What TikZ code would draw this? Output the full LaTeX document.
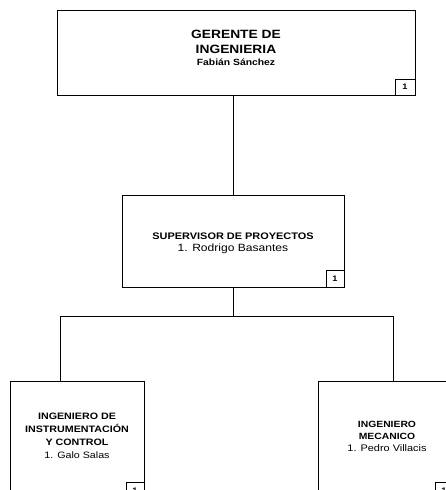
\documentclass[tikz,border=0pt]{standalone}
\usepackage{fontspec}
\setmainfont[FakeStretch=1.15]{Liberation Sans}
\usepackage{tikz}
\usetikzlibrary{positioning}

\begin{document}
\begin{tikzpicture}[x=1pt, y=-1pt,
        every node/.style = {inner sep=0pt, outer sep=0pt},
        puesto/.style = {draw, line width=0.8pt, anchor=north west},
        numbox/.style = {draw, line width=0.8pt, anchor=south east, minimum width=18pt, minimum height=17pt,
                         font=\bfseries\fontsize{8}{8}\selectfont},
        texto/.style = {align=center, font=\bfseries}
        ]
        \useasboundingbox (0,0) rectangle (446,490);
        \clip (0,0) rectangle (446,490);

        % cajas
        \node (1) [puesto, minimum width=358pt, minimum height=85pt] at (57,10) {};
        \node (2) [puesto, minimum width=222pt, minimum height=92pt] at (122,195) {};
        \node (3) [puesto, minimum width=134pt, minimum height=118pt] at (10,381) {};
        \node (4) [puesto, minimum width=135pt, minimum height=118pt] at (318,381) {};

        % textos
        \node (t1) [texto, font=\bfseries\fontsize{12}{15}\selectfont] at (236,48) {GERENTE DE\\
            INGENIERIA\\[-3pt]
            \fontsize{9}{11}\selectfont Fabián Sánchez};
        \node (t2) [texto, font=\bfseries\fontsize{9.5}{12}\selectfont] at (233,243) {SUPERVISOR DE PROYECTOS\\
            \mdseries\fontsize{10.5}{12}\selectfont 1. Rodrigo Basantes};
        \node (t3) [texto, font=\bfseries\fontsize{9.3}{13}\selectfont] at (77,436) {INGENIERO DE\\
            INSTRUMENTACIÓN\\ Y CONTROL\\
            \mdseries\fontsize{9.3}{12.5}\selectfont 1. Galo Salas};
        \node (t4) [texto, font=\bfseries\fontsize{9}{12}\selectfont] at (387,436) {INGENIERO\\
            MECANICO\\
            \mdseries\fontsize{9.5}{13}\selectfont 1. Pedro Villacis};

        % numeros
        \node (n1) [numbox, minimum width=20pt, minimum height=16pt] at (1.south east) {1};
        \node (n2) [numbox] at (2.south east) {1};
        \node (n3) [numbox] at (3.south east) {1};
        \node (n4) [numbox] at (4.south east) {1};

        % lineas
        \coordinate (a) at (60,316);
        \coordinate (b) at (393,316);
        \draw[line width=0.8pt] (2.north) -- (2.north |- 1.south);
        \draw[line width=0.8pt] (2.south) -- (2.south |- a);
        \draw[line width=0.8pt] (a) -- (b);
        \draw[line width=0.8pt] (a) -- (a |- 3.north);
        \draw[line width=0.8pt] (b) -- (b |- 4.north);
\end{tikzpicture}
\end{document}
